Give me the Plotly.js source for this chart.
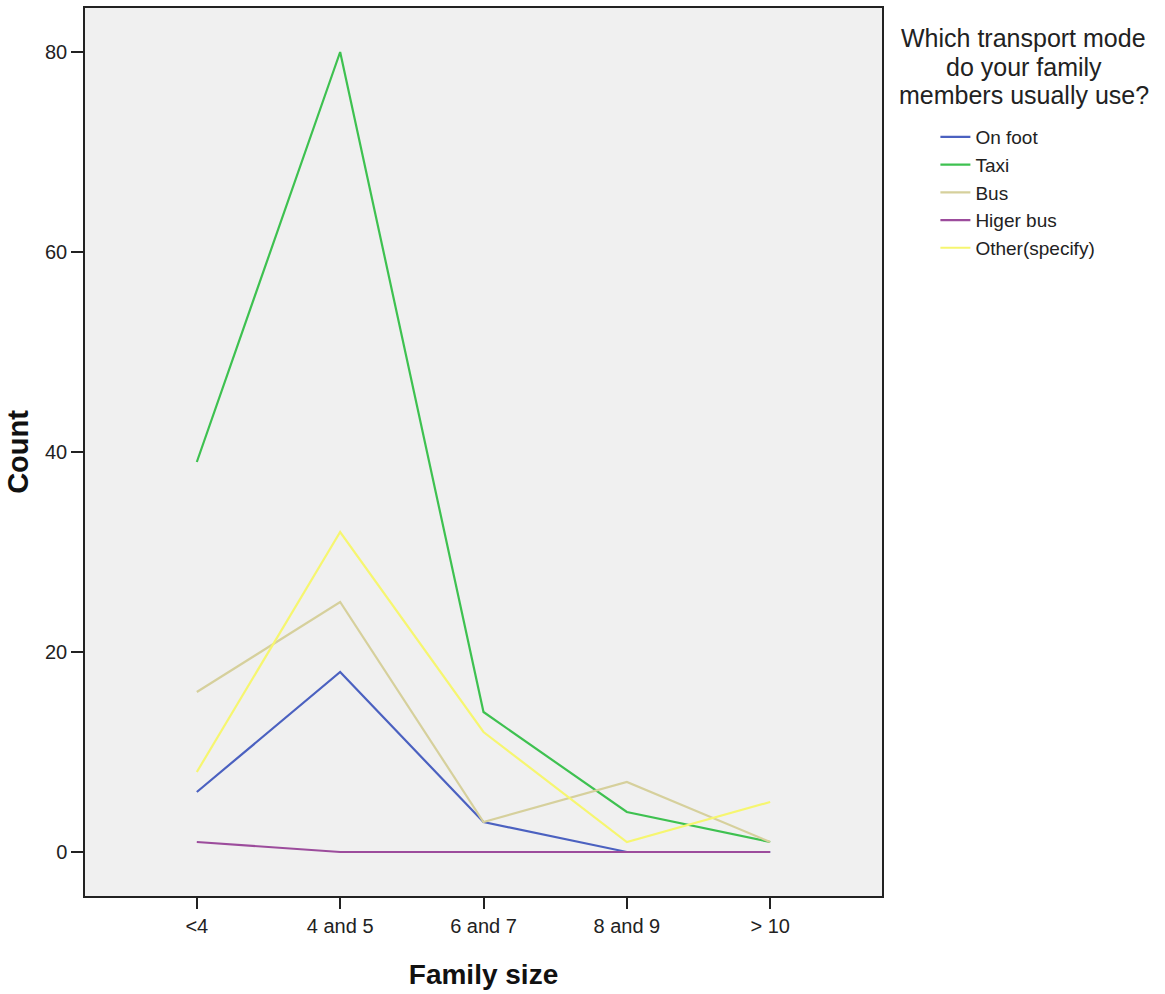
<!DOCTYPE html>
<html>
<head>
<meta charset="utf-8">
<script src="https://cdn.plot.ly/plotly-3.0.1.min.js"></script>
<style>html,body{margin:0;padding:0;background:#fff;}</style>
</head>
<body>
<div id="chart" style="width:1165px;height:994px;"></div>
<script>
var categories = ["<4", "4 and 5", "6 and 7", "8 and 9", "> 10"];
var onFoot = [6, 18, 3, 0, 0];
var taxi = [39, 80, 14, 4, 1];
var bus = [16, 25, 3, 7, 1];
var higerBus = [1, 0, 0, 0, 0];
var other = [8, 32, 12, 1, 5];
var seriesNames = ["On foot", "Taxi", "Bus", "Higer bus", "Other(specify)"];
var seriesColors = ["#4b61c0", "#3ec150", "#d6d09c", "#9c4c9c", "#f6f670"];
var yTicks = [0, 20, 40, 60, 80];
var legendTitleLines = ["Which transport mode", "do your family", "members usually use?"];

var allSeries = [onFoot, taxi, bus, higerBus, other];
var traces = allSeries.map(function (vals, i) {
  return {
    type: "scatter",
    mode: "lines",
    x: categories,
    y: vals,
    name: seriesNames[i],
    line: { color: seriesColors[i], width: 2.2 },
    hoverinfo: "x+y+name"
  };
});

var titleAnns = legendTitleLines.map(function (t, i) {
  return {
    xref: "paper", yref: "paper",
    x: 1.178, y: (896 - (38 + i * 28.5)) / 888,
    xanchor: "center", yanchor: "middle",
    showarrow: false,
    text: t,
    font: { size: 25, color: "#222" }
  };
});

var layout = {
  width: 1165,
  height: 994,
  margin: { l: 85, r: 283, t: 8, b: 98 },
  paper_bgcolor: "#ffffff",
  plot_bgcolor: "#f0f0f0",
  font: { family: "Liberation Sans, Arial, sans-serif", color: "#222" },
  showlegend: true,
  xaxis: {
    type: "category",
    range: [-0.78, 4.78],
    showgrid: false,
    zeroline: false,
    showline: true,
    linecolor: "#222",
    linewidth: 1.5,
    mirror: true,
    ticks: "outside",
    ticklen: 11,
    tickwidth: 1.5,
    tickcolor: "#222",
    tickfont: { size: 20 },
    title: { text: "<b>Family size</b>", font: { size: 28, color: "#111" }, standoff: 29 }
  },
  yaxis: {
    range: [-4.4, 84.4],
    tickvals: yTicks,
    showgrid: false,
    zeroline: false,
    showline: true,
    linecolor: "#222",
    linewidth: 1.5,
    mirror: true,
    ticks: "outside",
    ticklen: 12,
    tickwidth: 1.5,
    tickcolor: "#222",
    tickfont: { size: 20 },
    title: { text: "<b>Count</b>", font: { size: 29, color: "#111" }, standoff: 8 }
  },
  legend: {
    x: 1.067,
    xanchor: "left",
    y: 0.876,
    yanchor: "top",
    bgcolor: "rgba(0,0,0,0)",
    font: { size: 19, color: "#222" },
    itemwidth: 30,
    tracegroupgap: 0
  },
  annotations: titleAnns
};

Plotly.newPlot("chart", traces, layout, { displayModeBar: false });
</script>
</body>
</html>
